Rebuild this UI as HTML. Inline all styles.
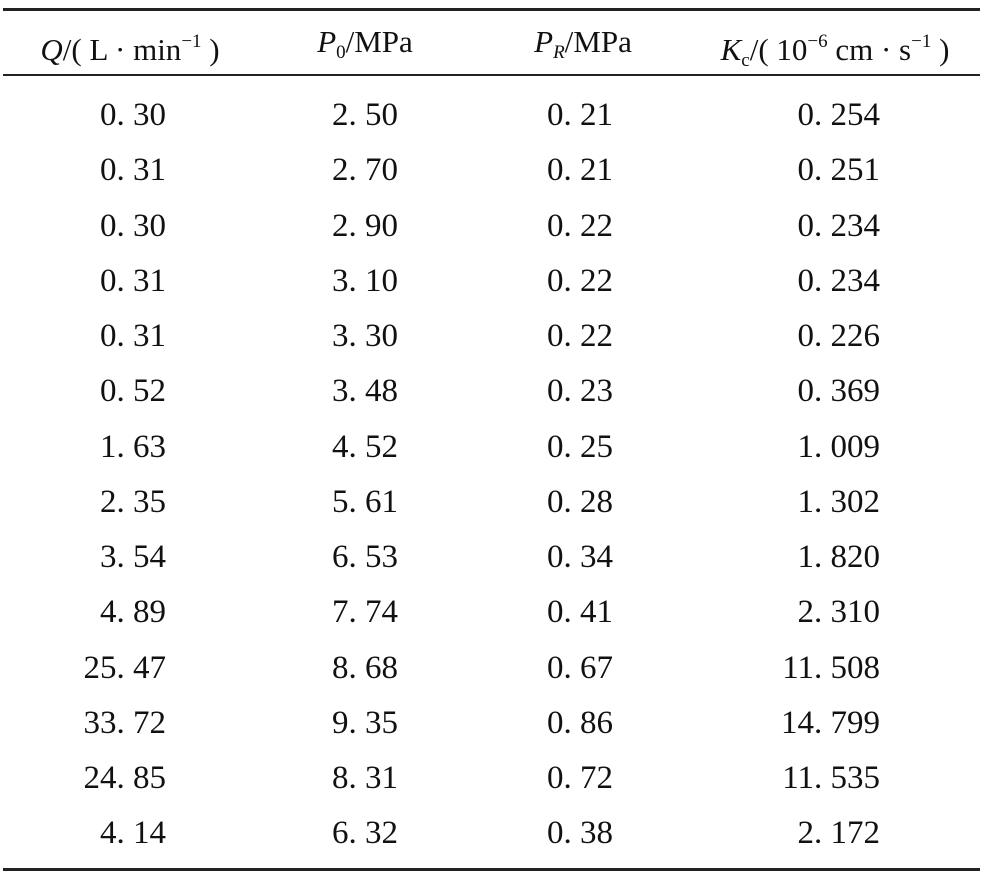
<!DOCTYPE html>
<html><head><meta charset="utf-8"><style>
body{margin:0;width:992px;height:880px;background:#fff;position:relative;font-family:"Liberation Serif","Noto Serif CJK SC",serif;color:#111;overflow:hidden}
.rule{position:absolute;left:3px;width:977px;background:#222}
.c{position:absolute;font-size:33px;line-height:40px;white-space:pre}
.h{position:absolute;font-size:31px;line-height:40px;white-space:nowrap;transform:translateX(-50%)}
sup{font-size:19px;vertical-align:13px}
sub{font-size:19px;vertical-align:-6px}
i{font-style:italic}
</style></head><body>
<div class="rule" style="top:8px;height:3px"></div>
<div class="rule" style="top:74px;height:2px"></div>
<div class="rule" style="top:868px;height:3px"></div>
<div class="h" style="left:130px;top:22px"><i>Q</i>/( L · min<sup>−1</sup> )</div>
<div class="h" style="left:365px;top:22px"><i>P</i><sub>0</sub>/MPa</div>
<div class="h" style="left:583px;top:22px"><i>P<sub>R</sub></i>/MPa</div>
<div class="h" style="left:835px;top:22px"><i>K</i><sub>c</sub>/( 10<sup>−6</sup> cm · s<sup>−1</sup> )</div>
<div id="body"></div>
<script>
const colQ=["0. 30","0. 31","0. 30","0. 31","0. 31","0. 52","1. 63","2. 35","3. 54","4. 89","25. 47","33. 72","24. 85","4. 14"];
const colP0=["2. 50","2. 70","2. 90","3. 10","3. 30","3. 48","4. 52","5. 61","6. 53","7. 74","8. 68","9. 35","8. 31","6. 32"];
const colPR=["0. 21","0. 21","0. 22","0. 22","0. 22","0. 23","0. 25","0. 28","0. 34","0. 41","0. 67","0. 86","0. 72","0. 38"];
const colKc=["0. 254","0. 251","0. 234","0. 234","0. 226","0. 369","1. 009","1. 302","1. 820","2. 310","11. 508","14. 799","11. 535","2. 172"];
const cols=[colQ,colP0,colPR,colKc];
const rights=[166,398,613,880];
const names=["q","p0","pr","kc"];
const b=document.getElementById('body');
for(let i=0;i<colQ.length;i++){
  for(let c=0;c<4;c++){
    const d=document.createElement('div');
    d.className='c';
    
    
    d.style.right=(992-rights[c])+'px';
    d.style.top=(95+i*55.25)+'px';
    d.textContent=cols[c][i];
    b.appendChild(d);
  }
}
</script>
</body></html>
